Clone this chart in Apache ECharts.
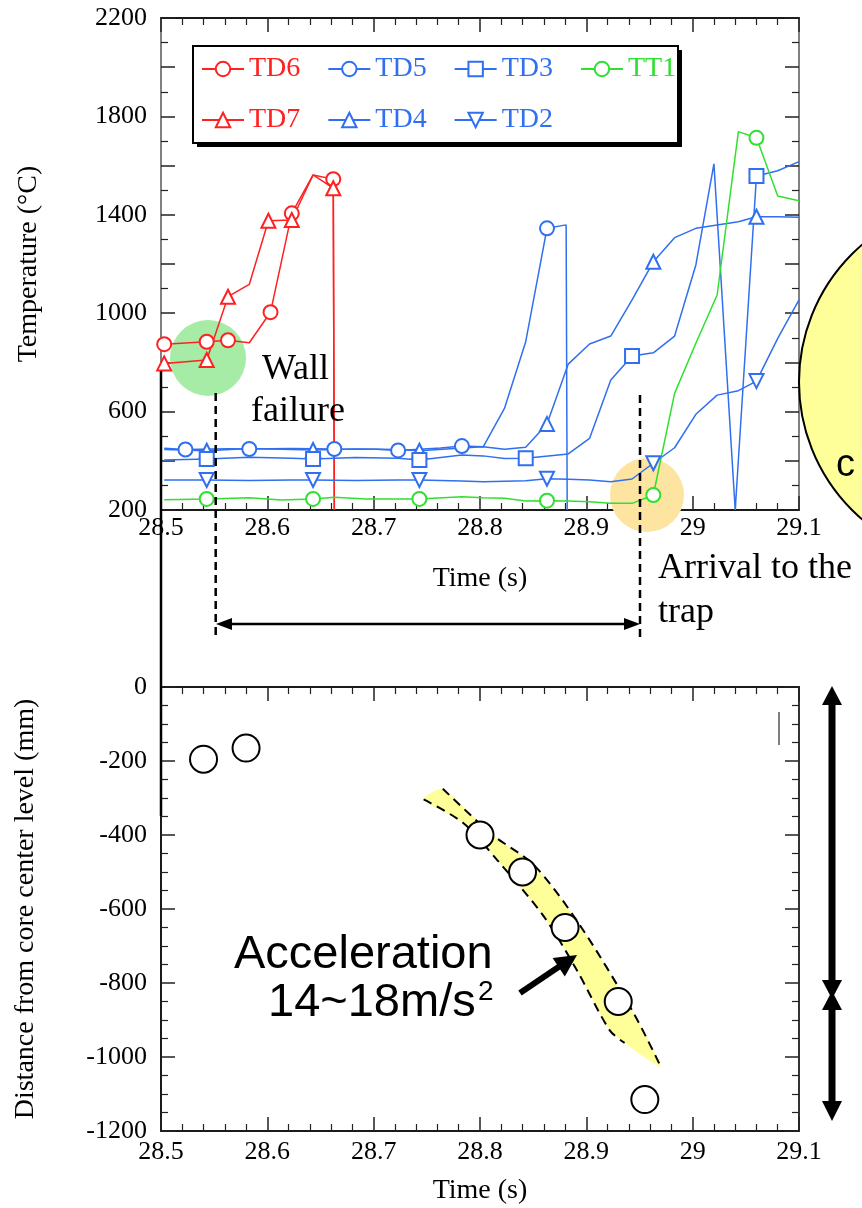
<!DOCTYPE html>
<html><head><meta charset="utf-8">
<script src="https://cdn.jsdelivr.net/npm/echarts@6/dist/echarts.min.js"></script>
<style>html,body{margin:0;padding:0;background:#fff}#c{width:862px;height:1208px}</style>
</head><body><div id="c"></div>
<script>
// ---------- Top chart: temperatures (time s, value °C) ----------
const tTD6 = [28.503, 28.543, 28.563, 28.583, 28.603, 28.623, 28.643, 28.662, 28.663];
const vTD6 = [874, 884, 890, 880, 1004, 1406, 1562, 1545, 200];
const mTD6 = [0, 1, 2, 4, 5, 7];

const tTD7 = [28.503, 28.543, 28.563, 28.583, 28.601, 28.623, 28.643, 28.662, 28.663];
const vTD7 = [796, 810, 1067, 1117, 1376, 1379, 1562, 1508, 200];
const mTD7 = [0, 1, 2, 4, 5, 7];

const tTD5 = [28.503, 28.523, 28.563, 28.583, 28.623, 28.663, 28.703, 28.723, 28.763, 28.783, 28.803, 28.823, 28.843, 28.863, 28.881, 28.882];
const vTD5 = [451, 446, 449, 448, 450, 448, 447, 442, 452, 460, 457, 613, 884, 1345, 1359, 200];
const mTD5 = [1, 3, 5, 7, 9, 13];

const tTD4 = [28.503, 28.543, 28.583, 28.623, 28.643, 28.683, 28.723, 28.743, 28.783, 28.803, 28.823, 28.843, 28.863, 28.883, 28.903, 28.923, 28.943, 28.963, 28.983, 29.003, 29.023, 29.043, 29.060, 29.080, 29.100];
const vTD4 = [446, 441, 450, 446, 444, 448, 446, 441, 452, 457, 447, 455, 550, 793, 875, 907, 1054, 1209, 1307, 1345, 1359, 1372, 1392, 1392, 1390];
const mTD4 = [1, 4, 7, 12, 17, 22];

const tTD3 = [28.503, 28.543, 28.583, 28.623, 28.643, 28.683, 28.723, 28.743, 28.783, 28.803, 28.823, 28.843, 28.883, 28.903, 28.923, 28.943, 28.963, 28.983, 29.003, 29.020, 29.040, 29.060, 29.080, 29.100];
const vTD3 = [403, 407, 414, 410, 407, 413, 410, 403, 424, 420, 409, 410, 428, 491, 728, 826, 839, 907, 1196, 1607, 200, 1558, 1579, 1616];
const mTD3 = [1, 4, 7, 11, 15, 21];

const tTD2 = [28.503, 28.543, 28.583, 28.623, 28.643, 28.683, 28.723, 28.743, 28.783, 28.803, 28.843, 28.863, 28.883, 28.903, 28.923, 28.943, 28.963, 28.983, 29.003, 29.023, 29.043, 29.060, 29.080, 29.100];
const vTD2 = [322, 322, 320, 322, 322, 320, 322, 322, 318, 315, 319, 327, 325, 322, 315, 326, 390, 453, 589, 667, 685, 724, 898, 1054];
const mTD2 = [1, 4, 7, 11, 16, 21];

const tTT1 = [28.503, 28.543, 28.583, 28.613, 28.643, 28.663, 28.693, 28.743, 28.783, 28.803, 28.823, 28.843, 28.863, 28.883, 28.903, 28.923, 28.943, 28.963, 28.983, 29.003, 29.023, 29.043, 29.060, 29.080, 29.100];
const vTT1 = [242, 245, 250, 241, 245, 252, 245, 245, 254, 250, 248, 237, 238, 237, 234, 227, 227, 261, 674, 878, 1074, 1738, 1713, 1476, 1457];
const mTT1 = [1, 4, 7, 12, 17, 22];

// ---------- Bottom chart: position (time s, distance mm) ----------
const tPos = [28.54, 28.58, 28.80, 28.84, 28.88, 28.93, 28.955];
const dPos = [-195, -165, -400, -500, -650, -850, -1115];

// dashed envelope curves of the falling debris
const envRight = [[28.765, -275], [28.812, -400], [28.851, -482], [28.894, -644], [28.944, -879], [28.970, -1026]];
const envLeft = [[28.747, -304], [28.784, -367], [28.816, -467], [28.860, -620], [28.891, -765], [28.922, -928], [28.936, -962]];

const RED = '#ff2020', BLUE = '#2f6ff0', GREEN = '#30e030';
const SERIF = '"Liberation Serif", "Times New Roman", serif';
const SANS = '"Liberation Sans", Arial, sans-serif';

function tempSeries(name, t, v, marks, symbol, color, rotate) {
  return {
    type: 'line', name: name, xAxisIndex: 0, yAxisIndex: 0,
    symbol: symbol, symbolSize: 14, symbolRotate: rotate || 0, showAllSymbol: true,
    data: t.map((x, i) => marks.indexOf(i) >= 0 ? [x, v[i]] : { value: [x, v[i]], symbol: 'none' }),
    lineStyle: { color: color, width: 1.5 },
    itemStyle: { color: color, borderWidth: 1.3 },
    emphasis: { disabled: true }, silent: true, z: 3
  };
}

const tickStyle = { color: '#222', width: 1.5 };
function xAxisDef(grid, pos, showLabel, name, nameGap, margin) {
  return {
    type: 'value', gridIndex: grid, position: pos, min: 28.5, max: 29.1, interval: 0.1,
    axisLine: { show: true, onZero: false, lineStyle: { color: '#1a1a1a', width: 2 } },
    axisTick: { show: true, inside: true, length: 14, lineStyle: tickStyle },
    minorTick: { show: true, splitNumber: 5, length: 7, lineStyle: { color: '#222', width: 1.2 } },
    splitLine: { show: false }, minorSplitLine: { show: false },
    axisLabel: { show: showLabel, margin: margin, fontFamily: SERIF, fontSize: 26, color: '#000',
      formatter: v => String(+v.toFixed(1)) },
    name: name, nameLocation: 'middle', nameGap: nameGap,
    nameTextStyle: { fontFamily: SERIF, fontSize: 28, color: '#000' }
  };
}
function yAxisDef(grid, pos, min, max, interval, minorSplit, showLabel, labelFmt, name, nameGap, lineColor) {
  return {
    type: 'value', gridIndex: grid, position: pos, min: min, max: max, interval: interval,
    axisLine: { show: true, onZero: false, lineStyle: { color: lineColor, width: 2 } },
    axisTick: { show: true, inside: true, length: 14, lineStyle: tickStyle },
    minorTick: { show: true, splitNumber: minorSplit, length: 7, lineStyle: { color: '#222', width: 1.2 } },
    splitLine: { show: false }, minorSplitLine: { show: false },
    axisLabel: { show: showLabel, margin: 14, fontFamily: SERIF, fontSize: 26, color: '#000', formatter: labelFmt },
    name: name, nameLocation: 'middle', nameGap: nameGap,
    nameTextStyle: { fontFamily: SERIF, fontSize: 28, color: '#000' }
  };
}

const band = envLeft.concat(envRight.slice().reverse());

const chart = echarts.init(document.getElementById('c'), null, { renderer: 'canvas' });

function legendDef(names, colors, top) {
  return {
    left: 201, top: top, orient: 'horizontal', padding: 0, z: 10,
    itemWidth: 42, itemHeight: 18, itemGap: 27, itemTextGap: 4, selectedMode: false,
    textStyle: { fontFamily: SERIF, fontSize: 28 },
    data: names.map((n, i) => ({ name: n, textStyle: { color: colors[i] } }))
  };
}

function line(x1, y1, x2, y2, w, dash, z) {
  return { type: 'line', shape: { x1: x1, y1: y1, x2: x2, y2: y2 }, z: z || 6,
    style: { stroke: '#000', lineWidth: w, lineDash: dash || null } };
}
function poly(pts, z) {
  return { type: 'polygon', shape: { points: pts }, z: z || 6, style: { fill: '#000' } };
}

const option = {
  animation: false,
  backgroundColor: '#fff',
  grid: [
    { left: 161, top: 18, width: 638, height: 492 },
    { left: 161, top: 687, width: 638, height: 444 }
  ],
  legend: [
    legendDef(['TD6', 'TD5', 'TD3', 'TT1'], [RED, BLUE, BLUE, GREEN], 55),
    legendDef(['TD7', 'TD4', 'TD2'], [RED, BLUE, BLUE], 106)
  ],
  xAxis: [
    xAxisDef(0, 'bottom', true, 'Time (s)', 55, 5),
    xAxisDef(0, 'top', false, '', 0, 0),
    xAxisDef(1, 'bottom', true, 'Time (s)', 46, 8),
    xAxisDef(1, 'top', false, '', 0, 0)
  ],
  yAxis: [
    yAxisDef(0, 'left', 200, 2200, 200, 2, true, v => ((v - 200) % 400 === 0 ? String(v) : ''), 'Temperature (°C)', 118, '#808080'),
    yAxisDef(0, 'right', 200, 2200, 200, 2, false, null, '', 0, '#808080'),
    yAxisDef(1, 'left', -1200, 0, 200, 4, true, v => String(v), 'Distance from core center level (mm)', 121, '#1a1a1a'),
    yAxisDef(1, 'right', -1200, 0, 200, 4, false, null, '', 0, '#333')
  ],
  series: [
    tempSeries('TD6', tTD6, vTD6, mTD6, 'emptyCircle', RED),
    tempSeries('TD7', tTD7, vTD7, mTD7, 'emptyTriangle', RED),
    tempSeries('TD5', tTD5, vTD5, mTD5, 'emptyCircle', BLUE),
    tempSeries('TD4', tTD4, vTD4, mTD4, 'emptyTriangle', BLUE),
    tempSeries('TD3', tTD3, vTD3, mTD3, 'emptyRect', BLUE),
    tempSeries('TD2', tTD2, vTD2, mTD2, 'emptyTriangle', BLUE, 180),
    tempSeries('TT1', tTT1, vTT1, mTT1, 'emptyCircle', GREEN),
    {
      type: 'custom', name: 'band', xAxisIndex: 2, yAxisIndex: 2, silent: true, z: 1,
      data: [[28.85, -600]],
      renderItem: function (params, api) {
        return { type: 'polygon', shape: { points: band.map(p => api.coord(p)), smooth: 0.2 }, style: { fill: '#ffff99' } };
      }
    },
    {
      type: 'line', name: 'envL', xAxisIndex: 2, yAxisIndex: 2, data: envLeft, smooth: 0.3,
      showSymbol: false, silent: true, z: 2, lineStyle: { color: '#000', width: 2, type: [9, 6] }
    },
    {
      type: 'line', name: 'envR', xAxisIndex: 2, yAxisIndex: 2, data: envRight, smooth: 0.3,
      showSymbol: false, silent: true, z: 2, lineStyle: { color: '#000', width: 2, type: [9, 6] }
    },
    {
      type: 'scatter', name: 'pos', xAxisIndex: 2, yAxisIndex: 2, silent: true, z: 4,
      data: tPos.map((t, i) => [t, dPos[i]]), symbol: 'circle', symbolSize: 27,
      itemStyle: { color: '#fff', borderColor: '#000', borderWidth: 2, opacity: 1 }
    }
  ],
  graphic: [
    // highlight blobs
    { type: 'circle', shape: { cx: 208, cy: 358, r: 38 }, z: 1, style: { fill: '#a6eca6' } },
    { type: 'circle', shape: { cx: 647, cy: 495, r: 37 }, z: 1, style: { fill: '#fde4a0' } },
    // legend frame with shadow
    { type: 'rect', shape: { x: 197, y: 50, width: 485, height: 97 }, z: 5, style: { fill: '#000' } },
    { type: 'rect', shape: { x: 193, y: 46, width: 485, height: 97 }, z: 5, style: { fill: '#fff', stroke: '#000', lineWidth: 2 } },
    // big yellow circle on the right
    { type: 'circle', shape: { cx: 980, cy: 382, r: 181 }, z: 6, style: { fill: '#ffff99', stroke: '#000', lineWidth: 2 } },
    { type: 'text', x: 836, y: 466, z: 7, style: { text: 'c', font: '38px ' + SANS, fill: '#000', verticalAlign: 'middle' } },
    // stray axis stroke
    line(161, 371, 161, 816, 2.5, null, 6),
    line(779, 712, 779, 745, 1, null, 6),
    // dashed markers
    line(215.7, 393, 215.7, 638, 2.5, [8, 5], 6),
    line(640, 395, 640, 638, 2.5, [8, 5], 6),
    // horizontal double arrow
    line(230, 624, 626, 624, 2.5, null, 6),
    poly([[216, 624], [232, 618], [232, 630]]),
    poly([[640, 624], [624, 618], [624, 630]]),
    // right vertical double arrows
    line(832, 700, 832, 985, 7, null, 6),
    poly([[832, 686], [822, 705], [842, 705]]),
    poly([[832, 999], [822, 980], [842, 980]]),
    line(832, 1005, 832, 1105, 7, null, 6),
    poly([[832, 991], [822, 1010], [842, 1010]]),
    poly([[832, 1121], [822, 1101], [842, 1101]]),
    // acceleration arrow
    line(520, 993, 560, 966, 6, null, 6),
    poly([[577, 955], [564.8, 976.4], [552.6, 958.0]]),
    // texts
    { type: 'text', x: 262, y: 370, z: 7, style: { text: 'Wall', font: '36px ' + SERIF, fill: '#000', verticalAlign: 'middle' } },
    { type: 'text', x: 251, y: 412, z: 7, style: { text: 'failure', font: '36px ' + SERIF, fill: '#000', verticalAlign: 'middle' } },
    { type: 'text', x: 658, y: 569, z: 7, style: { text: 'Arrival to the', font: '36px ' + SERIF, fill: '#000', verticalAlign: 'middle' } },
    { type: 'text', x: 658, y: 613, z: 7, style: { text: 'trap', font: '36px ' + SERIF, fill: '#000', verticalAlign: 'middle' } },
    { type: 'text', x: 234, y: 955, z: 7, style: { text: 'Acceleration', font: '47px ' + SANS, fill: '#000', verticalAlign: 'middle' } },
    { type: 'text', x: 268, y: 1003, z: 7, style: { text: '14~18m/s', font: '47px ' + SANS, fill: '#000', verticalAlign: 'middle' } },
    { type: 'text', x: 478, y: 992, z: 7, style: { text: '2', font: '28px ' + SANS, fill: '#000', verticalAlign: 'middle' } }
  ]
};
chart.setOption(option);
</script>
</body></html>
